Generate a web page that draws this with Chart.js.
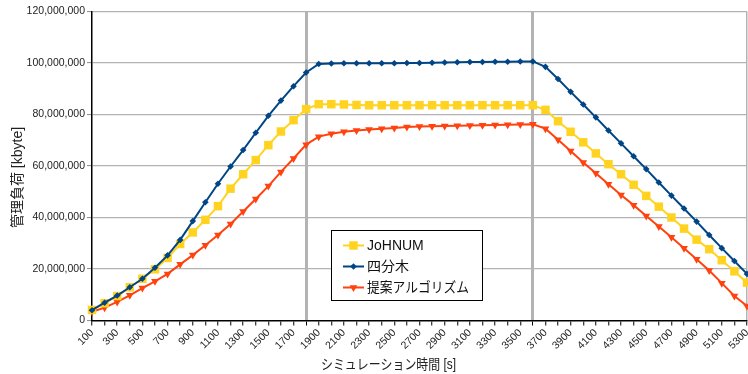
<!DOCTYPE html>
<html>
<head>
<meta charset="utf-8">
<script src="https://cdn.jsdelivr.net/npm/chart.js@4/dist/chart.umd.min.js"></script>
<style>
  html, body { margin: 0; padding: 0; background: #fff; }
  #wrap { width: 748px; height: 374px; }
</style>
</head>
<body>
<div id="wrap"><canvas id="chart" width="748" height="374"></canvas></div>
<script>
// Simulation time [s]
const categories = [
  100, 200, 300, 400, 500, 600, 700, 800, 900, 1000,
  1100, 1200, 1300, 1400, 1500, 1600, 1700, 1800, 1900, 2000,
  2100, 2200, 2300, 2400, 2500, 2600, 2700, 2800, 2900, 3000,
  3100, 3200, 3300, 3400, 3500, 3600, 3700, 3800, 3900, 4000,
  4100, 4200, 4300, 4400, 4500, 4600, 4700, 4800, 4900, 5000,
  5100, 5200, 5300
];

// Management load, in millions of kbyte
const johnum = [
  4.1, 6.7, 9.5, 12.9, 16.2, 19.9, 24.3, 29.7, 34.2, 39.1,
  44.4, 51.2, 56.8, 62.3, 68.1, 73.4, 77.8, 82.1, 84.0, 84.0,
  83.9, 83.7, 83.6, 83.6, 83.6, 83.6, 83.6, 83.6, 83.6, 83.6,
  83.6, 83.6, 83.6, 83.6, 83.6, 83.6, 81.8, 77.4, 73.3, 69.2,
  64.9, 60.7, 56.8, 52.7, 48.4, 44.2, 40.0, 35.7, 31.4, 27.7,
  23.4, 19.1, 14.7
];
const quadtree = [
  4.0, 6.9, 9.7, 12.9, 16.2, 20.5, 25.3, 31.3, 38.6, 45.9,
  53.1, 59.8, 66.2, 72.9, 79.5, 85.4, 91.0, 96.3, 99.6, 99.8,
  99.9, 99.9, 99.9, 99.9, 99.9, 100.0, 100.0, 100.1, 100.2, 100.3,
  100.4, 100.4, 100.5, 100.5, 100.6, 100.6, 98.5, 93.8, 88.8, 83.9,
  78.9, 73.8, 68.8, 63.8, 58.8, 53.6, 48.5, 43.5, 38.4, 33.2,
  28.1, 23.1, 18.1
];
const proposed = [
  3.4, 5.0, 7.2, 9.8, 12.6, 15.2, 18.1, 21.8, 25.4, 29.2,
  33.2, 37.5, 42.3, 47.2, 52.2, 57.7, 62.9, 68.3, 71.4, 72.5,
  73.3, 73.8, 74.2, 74.5, 74.8, 75.1, 75.3, 75.4, 75.5, 75.6,
  75.7, 75.8, 75.9, 76.0, 76.1, 76.2, 74.5, 70.2, 65.8, 61.4,
  57.2, 52.9, 48.7, 44.8, 40.6, 36.5, 32.3, 28.1, 23.8, 19.4,
  14.5, 9.5, 5.6
];

const seriesNames = ['JoHNUM', '四分木', '提案アルゴリズム'];
const MILLION = 1000000;
const toKbyte = arr => arr.map(v => v * MILLION);

const FONT = '"Liberation Sans", "Noto Sans CJK JP", sans-serif';
const GRID = '#b3b3b3';
const NONE = 'rgba(0,0,0,0)';

// Time marks where the simulation phases change
const phaseIdx = [categories.indexOf(1800), categories.indexOf(3600)];

const datasets = [
  { label: seriesNames[0], data: toKbyte(johnum), borderColor: '#ffd320', backgroundColor: '#ffd320',
    pointStyle: 'rect', pointRadius: 6, pointRotation: 0, order: 1 },
  { label: seriesNames[1], data: toKbyte(quadtree), borderColor: '#004586', backgroundColor: '#004586',
    pointStyle: 'rectRot', pointRadius: 3.3, pointRotation: 0, order: 0 },
  { label: seriesNames[2], data: toKbyte(proposed), borderColor: '#ff420e', backgroundColor: '#ff420e',
    pointStyle: 'triangle', pointRadius: 4.5, pointRotation: 180, order: 2 }
].map(d => Object.assign({
  borderWidth: 2, tension: 0, pointBorderWidth: 0, pointBackgroundColor: d.backgroundColor,
  pointHoverRadius: d.pointRadius, clip: false
}, d));

function drawMarker(ctx, ds, x, y) {
  ctx.save();
  ctx.fillStyle = ds.backgroundColor;
  ctx.beginPath();
  const r = ds.pointRadius;
  if (ds.pointStyle === 'rect') {
    const s = Math.SQRT1_2 * r;
    ctx.rect(x - s, y - s, 2 * s, 2 * s);
  } else if (ds.pointStyle === 'rectRot') {
    ctx.moveTo(x - r, y); ctx.lineTo(x, y - r); ctx.lineTo(x + r, y); ctx.lineTo(x, y + r);
    ctx.closePath();
  } else {
    const h = r * Math.sqrt(3) / 2;
    ctx.moveTo(x - h, y - r / 2); ctx.lineTo(x + h, y - r / 2); ctx.lineTo(x, y + r);
    ctx.closePath();
  }
  ctx.fill();
  ctx.restore();
}

const decorations = {
  id: 'decorations',
  afterDraw(chart) {
    const ctx = chart.ctx;
    ctx.save();
    ctx.fillStyle = '#222';
    ctx.font = '14px ' + FONT;
    ctx.textAlign = 'center';
    ctx.textBaseline = 'middle';

    // axis titles
    ctx.save();
    ctx.translate(18, 177.5);
    ctx.rotate(-Math.PI / 2);
    ctx.fillText('管理負荷 [kbyte]', 0, 0);
    ctx.restore();
    ctx.fillText('シミュレーション時間 [s]', 388.5, 365, 135);

    // legend box
    const bx = 331.5, by = 230.5, bw = 151, bh = 70;
    ctx.fillStyle = '#fff';
    ctx.fillRect(bx, by, bw, bh);
    ctx.strokeStyle = '#000';
    ctx.lineWidth = 1;
    ctx.strokeRect(bx, by, bw, bh);

    const rows = [245.5, 266.5, 287.5];
    const widths = [null, null, 102];
    ctx.textAlign = 'left';
    chart.data.datasets.forEach((ds, i) => {
      const y = rows[i];
      ctx.strokeStyle = ds.borderColor;
      ctx.lineWidth = 2;
      ctx.beginPath();
      ctx.moveTo(343, y);
      ctx.lineTo(364, y);
      ctx.stroke();
      drawMarker(ctx, ds, 353.5, y);
      ctx.fillStyle = '#111';
      if (widths[i]) ctx.fillText(ds.label, 367, y + 0.5, widths[i]);
      else ctx.fillText(ds.label, 367, y + 0.5);
    });
    ctx.restore();
  }
};

new Chart(document.getElementById('chart'), {
  type: 'line',
  data: { labels: categories, datasets },
  plugins: [decorations],
  options: {
    responsive: false,
    animation: false,
    events: [],
    layout: { autoPadding: false, padding: { top: 11.5, right: 1, bottom: 0, left: 0 } },
    plugins: { legend: { display: false }, tooltip: { enabled: false }, title: { display: false } },
    scales: {
      x: {
        type: 'category',
        offset: false,
        border: { color: '#000', width: 1.5 },
        grid: {
          drawOnChartArea: true,
          color: c => (phaseIdx.includes(c.index) || c.index === categories.length - 1) ? GRID : NONE,
          lineWidth: c => phaseIdx.includes(c.index) ? 3 : 1.5,
          drawTicks: true,
          tickLength: 5,
          tickColor: '#000',
          tickWidth: 1
        },
        ticks: {
          autoSkip: false,
          minRotation: 45,
          maxRotation: 45,
          padding: 1,
          color: '#222',
          font: { family: FONT, size: 10.5 },
          callback: (v, i) => (i % 2 === 0 ? String(categories[i]) : '')
        },
        afterFit: s => { s.height = 53.5; s.paddingRight = 0; s.paddingLeft = 0; }
      },
      y: {
        min: 0,
        max: 120 * MILLION,
        border: { color: '#000', width: 1.5 },
        grid: {
          color: c => (c.index === 0 ? NONE : GRID),
          lineWidth: 1.2,
          drawTicks: true,
          tickLength: 5,
          tickColor: '#888',
          tickWidth: 1
        },
        ticks: {
          stepSize: 20 * MILLION,
          padding: 2,
          color: '#222',
          font: { family: FONT, size: 10.5 },
          callback: v => Number(v).toLocaleString('en-US')
        },
        afterFit: s => { s.width = 92; }
      }
    }
  }
});
</script>
</body>
</html>
